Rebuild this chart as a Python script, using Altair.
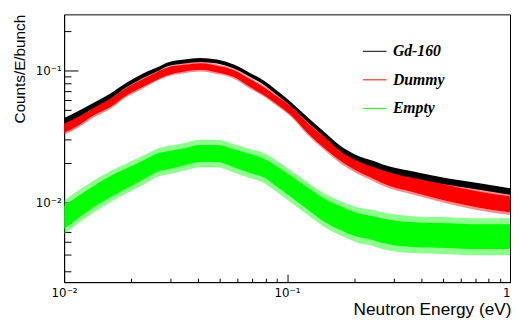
import altair as alt
import pandas as pd

# Neutron energy (eV) sample points
energy = [0.0100, 0.01153, 0.01358, 0.01614, 0.01919, 0.0226, 0.02687, 0.02915,
          0.03466, 0.04079, 0.04851, 0.05768, 0.0679, 0.08074, 0.0876, 0.1041,
          0.1226, 0.1458, 0.1733, 0.204, 0.2427, 0.2687, 0.3685, 0.5209, 0.729, 1.0]
# Central values (Counts/E/bunch)
gd160 = [0.0416, 0.0467, 0.0545, 0.0640, 0.0782, 0.0913, 0.1040, 0.1112,
         0.1168, 0.1202, 0.1168, 0.1071, 0.0929, 0.0782, 0.0701, 0.0555,
         0.0429, 0.0331, 0.0256, 0.0218, 0.0196, 0.0184, 0.0162, 0.0144, 0.0132, 0.0121]
dummy = [0.0371, 0.0416, 0.0494, 0.0570, 0.0697, 0.0804, 0.0929, 0.0983,
         0.1040, 0.1071, 0.1023, 0.0945, 0.0804, 0.0677, 0.0612, 0.0494,
         0.0371, 0.0287, 0.0228, 0.0194, 0.0170, 0.0158, 0.0136, 0.0118, 0.0105, 0.0097]
empty = [0.0077, 0.0092, 0.0111, 0.0132, 0.0153, 0.0176, 0.0203, 0.0209,
         0.0222, 0.0235, 0.0235, 0.0216, 0.0198, 0.0178, 0.0162, 0.0132,
         0.0108, 0.0088, 0.0076, 0.0068, 0.0064, 0.0061, 0.0057, 0.0056, 0.0055, 0.0055]
# Dense-core noise spread of each band (multiplicative half-width)
gd160_spread = [1.05, 1.05, 1.045, 1.045, 1.04, 1.04, 1.035, 1.035,
                1.035, 1.035, 1.035, 1.035, 1.035, 1.04, 1.04, 1.04,
                1.045, 1.045, 1.05, 1.05, 1.055, 1.055, 1.06, 1.06, 1.06, 1.06]
dummy_spread = [1.10, 1.09, 1.08, 1.08, 1.07, 1.07, 1.07, 1.07,
                1.06, 1.06, 1.06, 1.06, 1.07, 1.07, 1.07, 1.08,
                1.09, 1.10, 1.10, 1.11, 1.12, 1.13, 1.14, 1.15, 1.15, 1.15]
empty_spread = [1.22, 1.21, 1.20, 1.20, 1.19, 1.18, 1.17, 1.17,
                1.16, 1.16, 1.16, 1.17, 1.18, 1.18, 1.19, 1.20,
                1.21, 1.22, 1.23, 1.23, 1.23, 1.24, 1.24, 1.24, 1.24, 1.24]
# Outer spike fringe (multiplicative half-width)
dummy_fringe = [1.14, 1.13, 1.12, 1.11, 1.10, 1.10, 1.09, 1.09,
                1.09, 1.09, 1.09, 1.09, 1.10, 1.10, 1.10, 1.11,
                1.13, 1.14, 1.15, 1.16, 1.17, 1.18, 1.19, 1.20, 1.21, 1.21]
empty_fringe = [1.34, 1.33, 1.32, 1.31, 1.30, 1.29, 1.28, 1.28,
                1.27, 1.27, 1.27, 1.28, 1.29, 1.30, 1.31, 1.32,
                1.33, 1.34, 1.35, 1.36, 1.37, 1.38, 1.38, 1.38, 1.38, 1.38]

series_names = ["Gd-160", "Dummy", "Empty"]
series_colors = ["#000000", "#ff0000", "#00ff00"]

x_ticks = [0.01 * k for k in range(1, 10)] + [0.1 * k for k in range(1, 10)] + [1.0]
y_ticks = [0.001 * k for k in range(3, 10)] + [0.01 * k for k in range(1, 10)] + [0.1, 0.2]

rows = []
for name, vals, spr, fr in [("Empty", empty, empty_spread, empty_fringe),
                            ("Dummy", dummy, dummy_spread, dummy_fringe),
                            ("Gd-160", gd160, gd160_spread, gd160_spread)]:
    for e, v, s, f in zip(energy, vals, spr, fr):
        rows.append({"series": name, "E": e, "v": v, "lo": v / s, "hi": v * s,
                     "flo": v / f, "fhi": v * f})
df = pd.DataFrame(rows)

xscale = alt.Scale(type="log", domain=[0.01, 1.0], nice=False)
yscale = alt.Scale(type="log", domain=[0.00249, 0.266], nice=False)

major_test = "abs(log(datum.value)/LN10 - round(log(datum.value)/LN10)) < 0.001"
color_scale = alt.Scale(domain=series_names, range=series_colors)

legend = alt.Legend(
    title=None, orient="none", legendX=303, legendY=25,
    symbolType="stroke", symbolSize=576, symbolStrokeWidth=1,
    labelFont="Liberation Serif", labelFontStyle="italic",
    labelFontWeight="bold", labelFontSize=16, labelOffset=6,
    rowPadding=8, padding=0,
)

axis_x_labels = alt.Axis(
    values=[0.01, 0.1, 1.0], ticks=False, grid=False, domain=True,
    domainColor="black",
    labelExpr="datum.value < 0.05 ? '10⁻²' : (datum.value < 0.5 ? '10⁻¹' : '1')",
    labelAlign={"condition": {"test": "datum.value > 0.5", "value": "right"}, "value": "center"},
    labelFlush=False, labelPadding=6, labelFontSize=12, labelFont="DejaVu Sans",
    labelColor="black",
    title="Neutron Energy (eV)", titleFont="Liberation Sans", titleFontSize=17.5,
    titleFontWeight="normal", titleColor="black",
    titleX=454, titleY=33, titleAlign="right", titleBaseline="alphabetic",
)
axis_y_labels = alt.Axis(
    values=[0.01, 0.1], ticks=False, grid=False, domain=True, domainColor="black",
    labelExpr="datum.value < 0.05 ? '10⁻²' : '10⁻¹'",
    labelPadding=3, labelFontSize=12, labelFont="DejaVu Sans", labelColor="black",
    title="Counts/E/bunch", titleFont="Liberation Sans", titleFontSize=15.5,
    titleFontWeight="normal", titleColor="black",
    titleX=-45, titleY=0, titleAngle=270, titleAlign="right", titleBaseline="middle",
)
axis_x_ticks = alt.Axis(
    orient="top", offset=-272, values=x_ticks, labels=False, domain=False,
    grid=False, title=None, ticks=True, tickColor="black", tickWidth=1,
    tickSize={"condition": {"test": major_test, "value": 8}, "value": 4},
)
axis_y_ticks = alt.Axis(
    orient="right", offset=-453, values=y_ticks, labels=False, domain=False,
    grid=False, title=None, ticks=True, tickColor="black", tickWidth=1,
    tickSize={"condition": {"test": major_test, "value": 14}, "value": 7},
)

base = alt.Chart(df)

band_layers = []
first = True
for name, col, fringe_op in [("Empty", "#00ff00", 0.45), ("Dummy", "#ff0000", 0.45),
                             ("Gd-160", "#000000", 0.0)]:
    sub = base.transform_filter(alt.datum.series == name)
    if fringe_op > 0:
        band_layers.append(
            sub.mark_area(interpolate="monotone", opacity=fringe_op, clip=True).encode(
                x=alt.X("E:Q", scale=xscale, axis=axis_x_labels if first else None),
                y=alt.Y("flo:Q", scale=yscale, axis=axis_y_labels if first else None),
                y2="fhi:Q",
                color=alt.value(col),
            )
        )
        first = False
    band_layers.append(
        sub.mark_area(interpolate="monotone", opacity=1, clip=True).encode(
            x=alt.X("E:Q", scale=xscale, axis=None),
            y=alt.Y("lo:Q", scale=yscale, axis=None),
            y2="hi:Q",
            color=alt.value(col),
        )
    )

lines = base.mark_line(interpolate="monotone", strokeWidth=1, clip=True).encode(
    x=alt.X("E:Q", scale=xscale, axis=axis_x_ticks),
    y=alt.Y("v:Q", scale=yscale, axis=axis_y_ticks),
    color=alt.Color("series:N", scale=color_scale, legend=legend),
)

chart = (
    alt.layer(*band_layers, lines)
    .resolve_axis(x="independent", y="independent")
    .properties(
        width=453, height=272,
        autosize=alt.AutoSizeParams(type="none"),
        padding={"left": 57, "top": 4, "right": 1, "bottom": 36},
        background="white",
    )
    .configure_view(stroke="black", strokeWidth=1)
)

chart.save("out.html", embed_options={"renderer": "svg", "actions": False})
